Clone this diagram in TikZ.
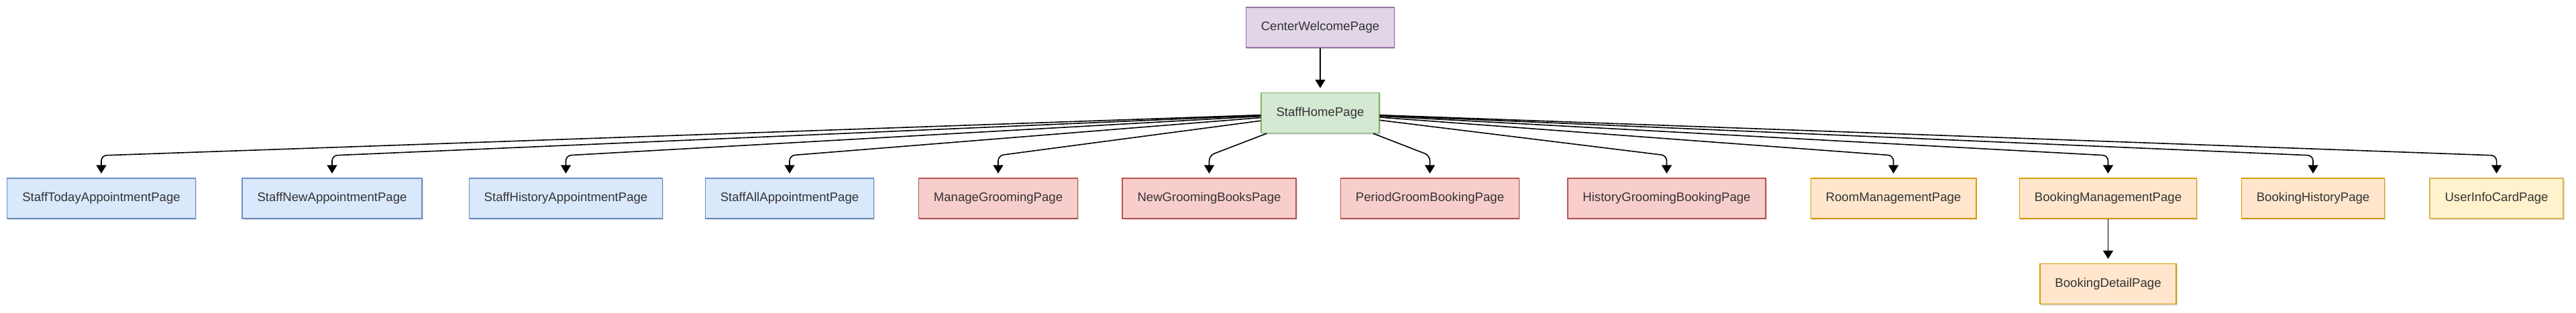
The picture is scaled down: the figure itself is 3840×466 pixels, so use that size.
\documentclass[tikz,border=0pt]{standalone}
\usepackage{fontspec}
\setmainfont{Liberation Sans}
\usetikzlibrary{arrows.meta,shadows}
\definecolor{txt}{HTML}{333333}
\definecolor{purF}{HTML}{E1D5E7}\definecolor{purD}{HTML}{9673A6}
\definecolor{grnF}{HTML}{D5E8D4}\definecolor{grnD}{HTML}{82B366}
\definecolor{bluF}{HTML}{DAE8FC}\definecolor{bluD}{HTML}{6C8EBF}
\definecolor{redF}{HTML}{F8CECC}\definecolor{redD}{HTML}{B85450}
\definecolor{oraF}{HTML}{FFE6CC}\definecolor{oraD}{HTML}{D79B00}
\definecolor{yelF}{HTML}{FFF2CC}\definecolor{yelD}{HTML}{D6B656}
\tikzset{
  box/.style={draw, line width=1.3pt, minimum height=60pt, inner xsep=22.5pt,
    text=txt, font=\fontsize{18.6}{22}\selectfont,
    drop shadow={shadow xshift=1.5pt, shadow yshift=-2pt, opacity=0.15, fill=black}},
  purbox/.style={box, fill=purF, draw=purD},
  grnbox/.style={box, fill=grnF, draw=grnD},
  blubox/.style={box, fill=bluF, draw=bluD},
  redbox/.style={box, fill=redF, draw=redD},
  orabox/.style={box, fill=oraF, draw=oraD},
  yelbox/.style={box, fill=yelF, draw=yelD},
  edge/.style={line width=1.6pt, black, rounded corners=8pt, shorten >=6.5pt,
    -{Triangle[length=12.5pt,width=15pt]}}
}
\begin{document}
\begin{tikzpicture}[x=1pt,y=1pt]
\useasboundingbox (0,0) rectangle (3840,-466);
\node[purbox] (cw) at (1968,-41) {CenterWelcomePage};
\node[grnbox] (shp) at (1968,-168.5) {StaffHomePage};
\node[blubox] (s1) at (151,-296) {StaffTodayAppointmentPage};
\node[blubox] (s2) at (495,-296) {StaffNewAppointmentPage};
\node[blubox] (s3) at (843.5,-296) {StaffHistoryAppointmentPage};
\node[blubox] (s4) at (1177,-296) {StaffAllAppointmentPage};
\node[redbox] (s5) at (1488,-296) {ManageGroomingPage};
\node[redbox] (s6) at (1802.5,-296) {NewGroomingBooksPage};
\node[redbox] (s7) at (2131.5,-296) {PeriodGroomBookingPage};
\node[redbox] (s8) at (2484.5,-296) {HistoryGroomingBookingPage};
\node[orabox] (s9) at (2822.5,-296) {RoomManagementPage};
\node[orabox] (s10) at (3142.5,-296) {BookingManagementPage};
\node[orabox] (s11) at (3448,-296) {BookingHistoryPage};
\node[yelbox] (s12) at (3721.5,-296) {UserInfoCardPage};
\node[orabox] (bd) at (3142.5,-423.5) {BookingDetailPage};
\draw[edge] (cw) -- (shp);
\foreach \n/\xx in {s1/151,s2/495,s3/843.5,s4/1177,s5/1488,s6/1802.5,s7/2131.5,s8/2484.5,s9/2822.5,s10/3142.5,s11/3448,s12/3721.5}
  \draw[edge] (shp) -- (\xx,-232) -- (\n);
\draw[edge] (s10) -- (bd);
\end{tikzpicture}
\end{document}
